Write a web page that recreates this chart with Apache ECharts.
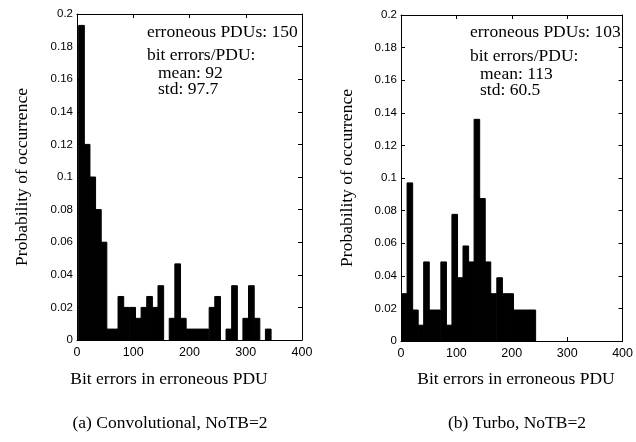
<!DOCTYPE html>
<html>
<head>
<meta charset="utf-8">
<script src="https://cdn.jsdelivr.net/npm/echarts@6/dist/echarts.min.js"></script>
<style>
html,body{margin:0;padding:0;background:#fff;}
#chart{width:636px;height:442px;}
</style>
</head>
<body>
<div id="chart"></div>
<script>
// ---- data ----
const xTicks = [0, 100, 200, 300, 400];
const yTickLabels = ['0','0.02','0.04','0.06','0.08','0.1','0.12','0.14','0.16','0.18','0.2'];

// (a) Convolutional, NoTB=2 : histogram bin centres and probabilities
const convBinWidth = 10.06;
const convCenters = [8,18,28,38,48,58,68,78,88,99,109,119,129,139,149,159,169,179,189,199,209,219,229,240,250,260,270,280,290,300,310,320,330,340];
const convProb = [0.193,0.12,0.1,0.08,0.06,0.0067,0.0067,0.0267,0.02,0.02,0.0133,0.02,0.0267,0.02,0.0333,0,0.0133,0.0467,0.0133,0.0067,0.0067,0.0067,0.0067,0.02,0.0267,0,0.0067,0.0333,0,0.0133,0.0333,0.0133,0,0.0067];

// (b) Turbo, NoTB=2
const turboBinWidth = 10.1;
const turboCenters = [6,16,26,36,46,56,66,77,87,97,107,117,127,137,147,157,167,178,188,198,208,218,228,238];
const turboProb = [0.029,0.097,0.019,0.0097,0.0485,0.019,0.019,0.0485,0.0097,0.0777,0.0388,0.0583,0.0485,0.136,0.0874,0.0485,0.029,0.0388,0.029,0.029,0.019,0.019,0.019,0.019];

const annotConv = ['erroneous PDUs: 150', 'bit errors/PDU:', 'mean: 92', 'std: 97.7'];
const annotTurbo = ['erroneous PDUs: 103', 'bit errors/PDU:', 'mean: 113', 'std: 60.5'];
const xName = 'Bit errors in erroneous PDU';
const yName = 'Probability of occurrence';
const captions = ['(a) Convolutional, NoTB=2', '(b) Turbo, NoTB=2'];

// ---- chart ----
const SERIF = '"Liberation Serif", "Times New Roman", serif';
const SANS = '"Liberation Sans", Arial, sans-serif';
const FS = 17.5;

function toData(centers, probs, w) {
  return centers.map((c, i) => [c, probs[i], w]);
}

function renderBar(params, api) {
  const c = api.value(0), v = api.value(1), w = api.value(2);
  if (!v) return null;
  const p1 = api.coord([c - w / 2, v]);
  const p2 = api.coord([c + w / 2, 0]);
  return {
    type: 'rect',
    shape: { x: p1[0], y: p1[1], width: p2[0] - p1[0], height: p2[1] - p1[1] },
    style: { fill: '#000', stroke: '#000', lineWidth: 1 }
  };
}

const grids = [
  { left: 77, top: 14, width: 225, height: 326 },
  { left: 401, top: 15, width: 224, height: 326 }
];

const xAxes = [], yAxes = [];
grids.forEach((g, gi) => {
  const common = {
    gridIndex: gi, type: 'value', min: 0, max: 400, interval: 100,
    axisLine: { show: true, onZero: false, lineStyle: { color: '#000', width: 1 } },
    axisTick: { show: true, inside: true, length: 4, lineStyle: { color: '#000' } },
    splitLine: { show: false }
  };
  xAxes.push(Object.assign({}, common, {
    position: 'bottom',
    axisLabel: { show: true, color: '#000', fontSize: 12.5, fontFamily: SANS, margin: 6,
      formatter: v => (xTicks.indexOf(v) >= 0 ? String(v) : '') }
  }));
  xAxes.push(Object.assign({}, common, { position: 'top', axisLabel: { show: false } }));
  const ycommon = {
    gridIndex: gi, type: 'value', min: 0, max: 0.2, interval: 0.02,
    axisLine: { show: true, onZero: false, lineStyle: { color: '#000', width: 1 } },
    axisTick: { show: true, inside: true, length: 4, lineStyle: { color: '#000' } },
    splitLine: { show: false }
  };
  yAxes.push(Object.assign({}, ycommon, {
    position: 'left',
    axisLabel: { show: true, color: '#000', fontSize: 11.5, fontFamily: SANS, margin: 4,
      formatter: v => yTickLabels[Math.round(v / 0.02)] }
  }));
  yAxes.push(Object.assign({}, ycommon, { position: 'right', axisLabel: { show: false } }));
});

function textEl(x, y, text, align, rotation) {
  return {
    type: 'text', x: x, y: y, rotation: rotation || 0,
    style: { text: text, fill: '#000', font: FS + 'px ' + SERIF,
      textAlign: align || 'left', textVerticalAlign: 'middle' }
  };
}

const graphics = [
  textEl(147, 32, annotConv[0]),
  textEl(147, 55, annotConv[1]),
  textEl(158, 73, annotConv[2]),
  textEl(158, 89, annotConv[3]),
  textEl(470, 32, annotTurbo[0]),
  textEl(470, 56, annotTurbo[1]),
  textEl(480, 74, annotTurbo[2]),
  textEl(480, 90, annotTurbo[3]),
  textEl(169, 379, xName, 'center'),
  textEl(516, 379, xName, 'center'),
  textEl(170, 423, captions[0], 'center'),
  textEl(517, 423, captions[1], 'center'),
  textEl(22, 177, yName, 'center', Math.PI / 2),
  textEl(347, 178, yName, 'center', Math.PI / 2)
];

const chart = echarts.init(document.getElementById('chart'), null, { renderer: 'canvas' });
chart.setOption({
  backgroundColor: '#fff',
  animation: false,
  grid: grids,
  xAxis: xAxes,
  yAxis: yAxes,
  series: [
    { type: 'custom', xAxisIndex: 0, yAxisIndex: 0, renderItem: renderBar,
      data: toData(convCenters, convProb, convBinWidth), encode: { x: 0, y: 1 } },
    { type: 'custom', xAxisIndex: 2, yAxisIndex: 2, renderItem: renderBar,
      data: toData(turboCenters, turboProb, turboBinWidth), encode: { x: 0, y: 1 } }
  ],
  graphic: graphics
});
</script>
</body>
</html>
